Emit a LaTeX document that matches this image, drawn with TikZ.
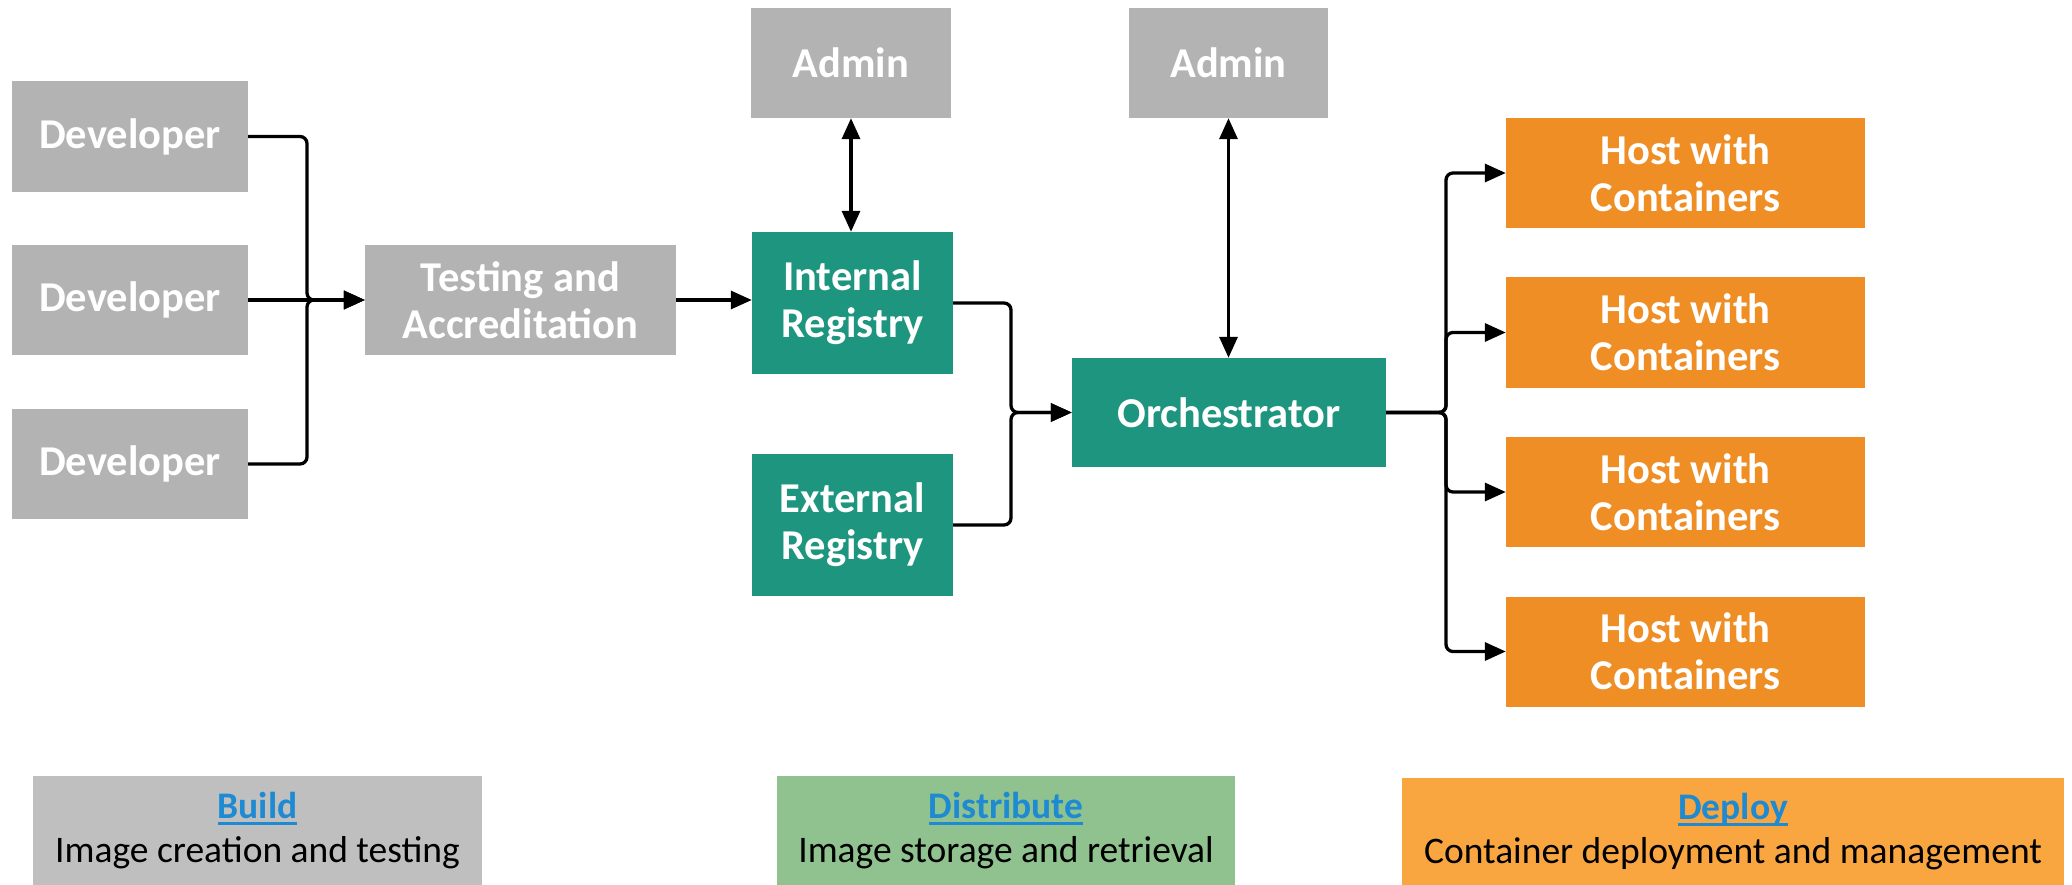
\documentclass[tikz,border=0pt]{standalone}
\usepackage{fontspec}
\setmainfont{Carlito}
\usetikzlibrary{arrows.meta}

\definecolor{boxgrey}{HTML}{B3B3B3}
\definecolor{regteal}{HTML}{1E967F}
\definecolor{hostorange}{HTML}{EF8E24}
\definecolor{legbuild}{HTML}{BFBFBF}
\definecolor{legdist}{HTML}{8FC28F}
\definecolor{legdeploy}{HTML}{F9A640}
\definecolor{linkblue}{HTML}{1E8AD2}

% underlined link-style heading
\newcommand\linkul[1]{{\color{linkblue}\bfseries\setbox0\hbox{#1}\rlap{\rule[-7pt]{\wd0}{3pt}}\box0}}

\tikzset{
  box/.style={rectangle, inner sep=0pt, align=center, text=white,
    font=\fontsize{42.5}{47}\selectfont\bfseries},
  greybox/.style={box, fill=boxgrey},
  tealbox/.style={box, fill=regteal},
  hostbox/.style={box, fill=hostorange, minimum width=359pt, minimum height=110pt},
  legend/.style={rectangle, inner sep=0pt, align=center, text=black,
    font=\fontsize{37.5}{44}\selectfont},
  tip/.tip={Triangle[length=21pt,width=18pt]},
  wire/.style={line width=3.3pt, -tip, rounded corners=7pt},
  twoway/.style={line width=3.3pt, tip-tip},
}

\begin{document}
\begin{tikzpicture}[x=1pt,y=-1pt]
\useasboundingbox (0,0) rectangle (2072,885);

% build stage
\node[greybox, minimum width=236pt, minimum height=111pt] (dev1) at (130,136.5) {Developer};
\node[greybox, minimum width=236pt, minimum height=110pt] (dev2) at (130,300) {Developer};
\node[greybox, minimum width=236pt, minimum height=110pt] (dev3) at (130,464) {Developer};
\node[greybox, minimum width=311pt, minimum height=110pt] (test) at (520.5,300) {Testing and\\Accreditation};

% distribute stage
\node[greybox, minimum width=200pt, minimum height=110pt] (admin1) at (851,63) {Admin};
\node[tealbox, minimum width=201pt, minimum height=142pt] (internal) at (852.5,303) {Internal\\Registry};
\node[tealbox, minimum width=201pt, minimum height=142pt] (external) at (852.5,525) {External\\Registry};

% deploy stage
\node[greybox, minimum width=199pt, minimum height=110pt] (admin2) at (1228.5,63) {Admin};
\node[tealbox, minimum width=314pt, minimum height=109pt] (orch) at (1229,412.5) {Orchestrator};
\node[hostbox] (host1) at (1685.5,173) {Host with\\Containers};
\node[hostbox] (host2) at (1685.5,332.5) {Host with\\Containers};
\node[hostbox] (host3) at (1685.5,492) {Host with\\Containers};
\node[hostbox] (host4) at (1685.5,651.5) {Host with\\Containers};

% junction points
\coordinate (j1) at (307,300);
\coordinate (j2) at (1011,412.5);
\coordinate (j3) at (1446,412.5);

% connectors
\draw[wire] (dev1.east) -| (j1) -- (test.west);
\draw[wire] (dev3.east) -| (j1) -- (test.west);
\draw[wire] (dev2.east) -- (test.west);
\draw[wire] (test.east) -- (test.east -| internal.west);
\draw[twoway] (admin1.south) -- (admin1.south |- internal.north);
\draw[wire] (internal.east) -| (j2) -- (orch.west);
\draw[wire] (external.east) -| (j2) -- (orch.west);
\draw[twoway] (admin2.south) -- (admin2.south |- orch.north);
\draw[wire] (orch.east) -- (j3) |- (host1.west);
\draw[wire] (orch.east) -- (j3) |- (host2.west);
\draw[wire] (orch.east) -- (j3) |- (host3.west);
\draw[wire] (orch.east) -- (j3) |- (host4.west);

% legend
\node[legend, fill=legbuild, minimum width=449pt, minimum height=109pt] (lbuild) at (257.5,830.5)
  {\linkul{Build}\\Image creation and testing};
\node[legend, fill=legdist, minimum width=458pt, minimum height=109pt] (ldist) at (1006,830.5)
  {\linkul{Distribute}\\Image storage and retrieval};
\node[legend, fill=legdeploy, minimum width=662pt, minimum height=107pt] (ldeploy) at (1733,831.5)
  {\linkul{Deploy}\\Container deployment and management};
\end{tikzpicture}
\end{document}
